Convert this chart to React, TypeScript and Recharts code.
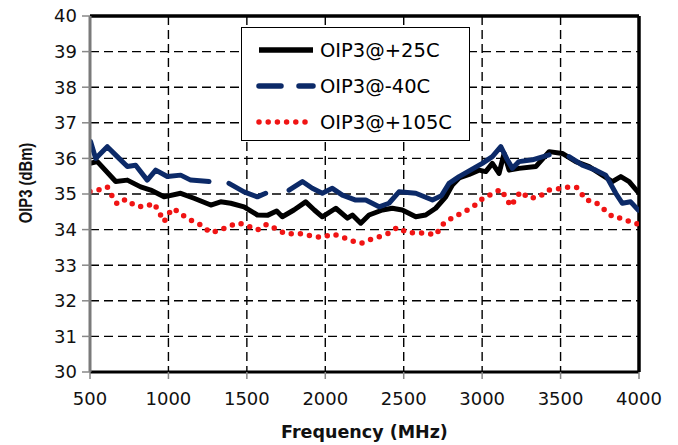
import {
  CartesianGrid,
  Line,
  LineChart,
  ReferenceLine,
  XAxis,
  YAxis,
} from "recharts";

// OIP3 vs frequency
const freq25 = [
  500, 547, 664, 738, 823, 887, 972, 1078, 1163, 1270, 1333, 1397, 1482, 1567,
  1631, 1690, 1726, 1800, 1875, 1930, 1981, 2067, 2141, 2173, 2226, 2279, 2364,
  2427, 2491, 2577, 2640, 2704, 2768, 2810, 2853, 2917, 2980, 3023, 3065, 3108,
  3140, 3172, 3235, 3342, 3427, 3511, 3597, 3682, 3766, 3830, 3884, 3937, 3990,
  4000,
];
const oip25 = [
  35.86, 35.91, 35.35, 35.39, 35.2, 35.11, 34.92, 35.02, 34.88, 34.69, 34.78,
  34.74, 34.64, 34.41, 34.4, 34.52, 34.36, 34.55, 34.78, 34.55, 34.36, 34.6,
  34.32, 34.41, 34.18, 34.41, 34.55, 34.6, 34.55, 34.36, 34.41, 34.6, 34.92,
  35.25, 35.45, 35.55, 35.67, 35.63, 35.86, 35.58, 36.14, 35.67, 35.72, 35.77,
  36.19, 36.14, 35.91, 35.77, 35.53, 35.35, 35.49, 35.35, 35.07, 35.05,
];

// null = gap in the dashed -40C trace
const freqM40 = [
  504, 536, 610, 674, 738, 791, 865, 919, 993, 1078, 1142, 1259, 1320, 1386,
  1482, 1567, 1620, 1700, 1769, 1854, 1917, 1981, 2045, 2109, 2194, 2258, 2343,
  2406, 2470, 2577, 2683, 2740, 2789, 2853, 3001, 3065, 3119, 3161, 3193, 3235,
  3320, 3427, 3490, 3554, 3639, 3724, 3788, 3852, 3894, 3947, 3995,
];
const oipM40 = [
  36.47, 36.0, 36.33, 36.05, 35.77, 35.81, 35.39, 35.67, 35.49, 35.53, 35.39,
  35.35, null, 35.3, 35.06, 34.92, 35.02, null, 35.11, 35.35, 35.16, 35.02,
  35.16, 34.97, 34.83, 34.83, 34.64, 34.74, 35.06, 35.02, 34.83, 34.95, 35.3,
  35.49, 35.86, 36.05, 36.33, 35.96, 35.72, 35.91, 35.96, 36.1, null, 36.05,
  35.81, 35.67, 35.53, 35.02, 34.74, 34.78, 34.55,
];

const freq105 = [
  500, 551, 610, 649, 674, 727, 791, 851, 908, 946, 972, 1010, 1031, 1089, 1152,
  1206, 1270, 1333, 1386, 1446, 1507, 1567, 1627, 1690, 1748, 1812, 1865, 1928,
  1981, 2045, 2105, 2162, 2226, 2279, 2343, 2406, 2459, 2523, 2587, 2640, 2704,
  2746, 2768, 2821, 2885, 2942, 3001, 3061, 3119, 3161, 3182, 3225, 3246, 3299,
  3363, 3422, 3480, 3543, 3601, 3650, 3661, 3720, 3777, 3835, 3894, 3958, 4000,
];
const oip105 = [
  35.07, 35.11, 35.2, 34.88, 34.72, 34.85, 34.66, 34.64, 34.74, 34.44, 34.22,
  34.5, 34.6, 34.41, 34.24, 34.13, 33.91, 33.99, 34.1, 34.19, 34.1, 33.99,
  34.15, 34.01, 33.88, 33.88, 33.88, 33.8, 33.78, 33.88, 33.8, 33.69, 33.61,
  33.71, 33.8, 33.9, 34.06, 33.91, 33.91, 33.9, 33.85, 34.13, 34.22, 34.36,
  34.5, 34.64, 34.86, 35.0, 35.13, 34.83, 34.66, 34.94, 35.07, 34.88, 34.92,
  35.11, 35.14, 35.19, 35.19, 34.91, 34.83, 34.78, 34.57, 34.35, 34.32, 34.19,
  34.15,
];

const xTicks = [500, 1000, 1500, 2000, 2500, 3000, 3500, 4000];
const yTicks = [30, 31, 32, 33, 34, 35, 36, 37, 38, 39, 40];

const seriesNames = ["OIP3@+25C", "OIP3@-40C", "OIP3@+105C"];

const data25 = freq25.map((f, i) => ({ f, v: oip25[i] }));
const dataM40 = freqM40.map((f, i) => ({ f, v: oipM40[i] }));
const data105 = freq105.map((f, i) => ({ f, v: oip105[i] }));

const FONT = "'DejaVu Sans', sans-serif";
const BLUE = "#0c2a68";
const RED = "#f01414";

function LegendBox() {
  const rows = [
    { stroke: "#000", dash: undefined, cap: "butt" },
    { stroke: BLUE, dash: "22 18", cap: "round" },
    { stroke: RED, dash: "0 9.2", cap: "round" },
  ];
  return (
    <div
      style={{
        position: "absolute",
        left: 241,
        top: 27,
        width: 229,
        height: 114,
        boxSizing: "border-box",
        border: "1.5px solid #000",
        background: "#fff",
      }}
    >
      {rows.map((r, i) => (
        <div
          key={i}
          style={{
            position: "absolute",
            left: 14,
            top: 9 + i * 36,
            height: 26,
            display: "flex",
            alignItems: "center",
          }}
        >
          <svg width={60} height={10}>
            <line
              x1={3}
              x2={57}
              y1={5}
              y2={5}
              stroke={r.stroke}
              strokeWidth={5.5}
              strokeDasharray={r.dash}
              strokeLinecap={r.cap as any}
            />
          </svg>
          <span
            style={{
              fontFamily: FONT,
              fontSize: 19.5,
              marginLeft: 4,
              color: "#000",
              whiteSpace: "nowrap",
            }}
          >
            {seriesNames[i]}
          </span>
        </div>
      ))}
    </div>
  );
}

export default function App() {
  return (
    <div
      style={{
        position: "absolute",
        left: 0,
        top: 0,
        width: 678,
        height: 445,
        background: "#fff",
      }}
    >
      <LineChart
        width={678}
        height={445}
        margin={{ top: 16, right: 39, bottom: 0, left: 0 }}
      >
        <CartesianGrid
          stroke="#000"
          strokeWidth={1.4}
          strokeDasharray="9 5"
        />
        <XAxis
          type="number"
          dataKey="f"
          domain={[500, 4000]}
          ticks={xTicks}
          interval={0}
          allowDataOverflow
          height={73}
          tickSize={7}
          tickMargin={13}
          axisLine={{ stroke: "#000", strokeWidth: 3 }}
          tickLine={{ stroke: "#888", strokeWidth: 1.5 }}
          tick={{ fill: "#111", fontSize: 18, fontFamily: FONT }}
          label={{
            content: (p: any) => (
              <text
                x={p.viewBox.x + p.viewBox.width / 2}
                y={438}
                textAnchor="middle"
                fontFamily={FONT}
                fontWeight="bold"
                fontSize={17.5}
                fill="#111"
              >
                Frequency (MHz)
              </text>
            ),
          }}
        />
        <YAxis
          type="number"
          domain={[30, 40]}
          ticks={yTicks}
          interval={0}
          allowDataOverflow
          width={90}
          tickSize={8}
          tickMargin={5}
          axisLine={{ stroke: "#7a7a7a", strokeWidth: 3 }}
          tickLine={{ stroke: "#888", strokeWidth: 1.5 }}
          tick={{ fill: "#111", fontSize: 18, fontFamily: FONT }}
          label={{
            content: () => (
              <text
                x={0}
                y={0}
                transform="translate(32 183) scale(1.3 1) rotate(-90)"
                textAnchor="middle"
                fontFamily="'Liberation Sans', Arial, sans-serif"
                fontWeight="bold"
                fontSize={14.8}
                fill="#111"
              >
                OIP3 (dBm)
              </text>
            ),
          }}
        />
        <ReferenceLine y={40} stroke="#000" strokeWidth={3.5} />
        <ReferenceLine x={4000} stroke="#000" strokeWidth={3.5} />
        <Line
          data={data25}
          dataKey="v"
          name={seriesNames[0]}
          type="linear"
          stroke="#000"
          strokeWidth={5}
          strokeLinejoin="round"
          dot={false}
          activeDot={false}
          isAnimationActive={false}
        />
        <Line
          data={dataM40}
          dataKey="v"
          name={seriesNames[1]}
          type="linear"
          stroke={BLUE}
          strokeWidth={5}
          strokeLinejoin="round"
          strokeLinecap="round"
          connectNulls={false}
          dot={false}
          activeDot={false}
          isAnimationActive={false}
        />
        <Line
          data={data105}
          dataKey="v"
          name={seriesNames[2]}
          type="linear"
          stroke={RED}
          strokeWidth={5.5}
          strokeDasharray="0 9.2"
          strokeLinecap="round"
          dot={false}
          activeDot={false}
          isAnimationActive={false}
        />
      </LineChart>
      <LegendBox />
    </div>
  );
}
